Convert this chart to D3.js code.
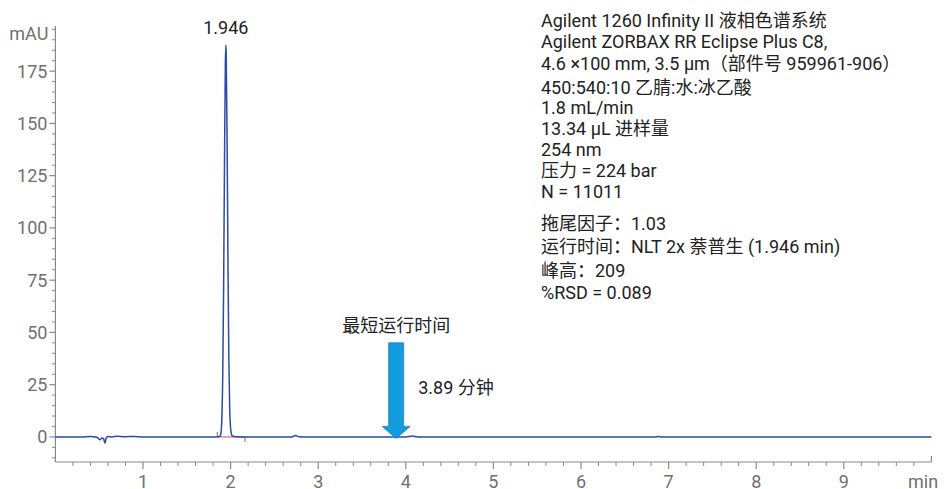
<!DOCTYPE html>
<html>
<head>
<meta charset="utf-8">
<script src="https://cdn.jsdelivr.net/npm/d3@7/dist/d3.min.js"></script>
<style>
  html, body { margin: 0; padding: 0; background: #fff; }
  svg { display: block; }
  text { font-family: Roboto, "Noto Sans CJK SC", "Noto Sans", sans-serif; }
</style>
</head>
<body>
<svg id="chart" width="944" height="489"></svg>
<script>
// Chromatogram trace: retention time (min) and absorbance (mAU)
const traceTime = [
  0, 0.30, 0.40, 0.45, 0.48, 0.51, 0.53, 0.55, 0.565, 0.58, 0.60, 0.65, 0.70, 0.80,
  0.90, 1.00, 1.30, 1.60, 1.80, 1.86, 1.88, 1.89, 1.90, 1.91, 1.92, 1.93, 1.94,
  1.946, 1.95, 1.96, 1.97, 1.98, 1.99, 2.00, 2.01, 2.02, 2.04, 2.08, 2.20, 2.50,
  2.70, 2.74, 2.78, 2.85, 3.20, 3.60, 4.00, 4.08, 4.12, 4.20, 5.00, 6.00, 6.85,
  6.88, 6.92, 7.50, 8.50, 9.50, 10.0
];
const traceMAU = [
  0, 0, 0.2, 0, -0.3, -1.4, -0.5, -0.8, -3.0, -0.6, 0.2, 0, 0.3, 0.1,
  0.2, 0, 0, 0, 0, 0.1, 0.4, 1.8, 8.6, 28.5, 70, 129, 178,
  187.5, 183, 141, 84, 37, 13, 4.0, 1.3, 0.5, 0.2, 0.1, 0, 0,
  0, 0.7, 0.1, 0, 0, 0, 0, 0.4, 0.1, 0, 0, 0, 0,
  0.2, 0, 0, 0, 0, 0
];

// Peak annotation
const peakTime = 1.946;
const peakHeight = 187.5;
const peakLabel = "1.946";

// Integration baseline under the peak (start/end, min)
const integrationStart = 1.848;
const integrationEnd = 2.164;

// Minimum run-time marker
const markerTime = 3.89;
const markerTitle = "最短运行时间";
const markerNote = "3.89 分钟";

// Axes
const xDomain = [0, 10];
const xMajorTicks = [1, 2, 3, 4, 5, 6, 7, 8, 9];
const xTickLabels = ["1", "2", "3", "4", "5", "6", "7", "8", "9"];
const yDomain = [-12, 196.6];
const yMajorTicks = [0, 25, 50, 75, 100, 125, 150, 175];
const yTickLabels = ["0", "25", "50", "75", "100", "125", "150", "175"];
const xUnit = "min";
const yUnit = "mAU";

// Method conditions
const methodLines = [
  "Agilent 1260 Infinity II 液相色谱系统",
  "Agilent ZORBAX RR Eclipse Plus C8,",
  "4.6 ×100 mm, 3.5 µm（部件号 959961-906）",
  "450:540:10 乙腈:水:冰乙酸",
  "1.8 mL/min",
  "13.34 µL 进样量",
  "254 nm",
  "压力 = 224 bar",
  "N = 11011"
];
// System suitability results
const resultLines = [
  "拖尾因子：1.03",
  "运行时间：NLT 2x 萘普生 (1.946 min)",
  "峰高：209",
  "%RSD = 0.089"
];

const svg = d3.select("#chart");
const plotLeft = 55.4, plotRight = 931.4, plotTop = 26, plotBottom = 462;
const fontSize = 18;

const x = d3.scaleLinear().domain(xDomain).range([plotLeft, plotRight]);
const y = d3.scaleLinear().domain(yDomain).range([plotBottom, plotTop]);

const axisColor = "#8a8a8a";
const labelColor = "#707070";

// ---- X axis ----
const gx = svg.append("g").attr("transform", `translate(0,${plotBottom})`);
gx.append("line").attr("x1", plotLeft).attr("x2", plotRight).attr("y1", 0).attr("y2", 0)
  .attr("stroke", axisColor).attr("stroke-width", 1.2);
const xMinor = d3.range(0.2, 10, 0.2).filter(v => Math.abs(v - Math.round(v)) > 1e-6);
gx.selectAll("line.xminor").data(xMinor).join("line")
  .attr("x1", d => x(d)).attr("x2", d => x(d)).attr("y1", 0).attr("y2", 4)
  .attr("stroke", axisColor).attr("stroke-width", 1);
gx.selectAll("line.xmajor").data(xMajorTicks).join("line")
  .attr("x1", d => x(d)).attr("x2", d => x(d)).attr("y1", 0).attr("y2", 7)
  .attr("stroke", axisColor).attr("stroke-width", 1.2);
gx.append("line").attr("x1", x(10)).attr("x2", x(10)).attr("y1", -6).attr("y2", 0)
  .attr("stroke", axisColor).attr("stroke-width", 1.2);
gx.selectAll("text.xl").data(xMajorTicks).join("text")
  .attr("x", d => x(d)).attr("y", 25.5)
  .attr("text-anchor", "middle").attr("font-size", fontSize).attr("fill", labelColor)
  .text((d, i) => xTickLabels[i]);
gx.append("text").attr("x", 908).attr("y", 25.5).attr("font-size", fontSize)
  .attr("fill", labelColor).text(xUnit);

// ---- Y axis ----
const gy = svg.append("g").attr("transform", `translate(${plotLeft},0)`);
gy.append("line").attr("x1", 0).attr("x2", 0).attr("y1", plotTop).attr("y2", plotBottom)
  .attr("stroke", axisColor).attr("stroke-width", 1.2);
const yMinor = d3.range(-10, 196, 5).filter(v => v % 25 !== 0);
gy.selectAll("line.yminor").data(yMinor).join("line")
  .attr("x1", -3.5).attr("x2", 0).attr("y1", d => y(d)).attr("y2", d => y(d))
  .attr("stroke", axisColor).attr("stroke-width", 1);
gy.selectAll("line.ymajor").data(yMajorTicks).join("line")
  .attr("x1", -6).attr("x2", 0).attr("y1", d => y(d)).attr("y2", d => y(d))
  .attr("stroke", axisColor).attr("stroke-width", 1.2);
gy.selectAll("text.yl").data(yMajorTicks).join("text")
  .attr("x", -8).attr("y", d => y(d) + 6.5)
  .attr("text-anchor", "end").attr("font-size", fontSize).attr("fill", labelColor)
  .text((d, i) => yTickLabels[i]);
gy.append("text").attr("x", -7).attr("y", 39.5).attr("text-anchor", "end")
  .attr("font-size", fontSize).attr("fill", labelColor).text(yUnit);

// ---- Integration baseline ----
const integ = svg.append("g").attr("stroke", "#d95b83").attr("stroke-width", 1.2);
integ.append("line").attr("x1", x(integrationStart)).attr("x2", x(integrationEnd))
  .attr("y1", y(0)).attr("y2", y(0));
integ.append("line").attr("x1", x(integrationStart)).attr("x2", x(integrationStart))
  .attr("y1", y(0)).attr("y2", y(0) - 5).attr("stroke", "#888");
integ.append("line").attr("x1", x(integrationEnd)).attr("x2", x(integrationEnd))
  .attr("y1", y(0)).attr("y2", y(0) + 5).attr("stroke", "#888");

// ---- Trace ----
const traceData = traceTime.map((t, i) => ({ t, v: traceMAU[i] }));
const line = d3.line().x(d => x(d.t)).y(d => y(d.v)).curve(d3.curveMonotoneX);
svg.append("path").datum(traceData)
  .attr("d", line).attr("fill", "none")
  .attr("stroke", "#2d4aa5").attr("stroke-width", 1.5).attr("stroke-linejoin", "round");

// Peak label
svg.append("text").attr("x", x(peakTime)).attr("y", y(peakHeight) - 11.5)
  .attr("text-anchor", "middle").attr("font-size", fontSize).attr("fill", "#222")
  .text(peakLabel);

// ---- Run-time marker arrow ----
const tipX = x(markerTime), tipY = y(0) + 1.5;
const shaftHalf = 7.5, headHalf = 14, headLen = 12, shaftTop = y(45);
const arrowPath = d3.path();
arrowPath.moveTo(tipX - shaftHalf, shaftTop);
arrowPath.lineTo(tipX + shaftHalf, shaftTop);
arrowPath.lineTo(tipX + shaftHalf, tipY - headLen);
arrowPath.lineTo(tipX + headHalf, tipY - headLen);
arrowPath.lineTo(tipX, tipY);
arrowPath.lineTo(tipX - headHalf, tipY - headLen);
arrowPath.lineTo(tipX - shaftHalf, tipY - headLen);
arrowPath.closePath();
svg.append("path").attr("d", arrowPath.toString())
  .attr("fill", "#119ddf").attr("stroke", "#2a78b8").attr("stroke-width", 0.8);
svg.append("text").attr("x", tipX).attr("y", 331.5).attr("text-anchor", "middle")
  .attr("font-size", fontSize).attr("fill", "#222").text(markerTitle);
svg.append("text").attr("x", tipX + 22).attr("y", 393.5)
  .attr("font-size", fontSize).attr("fill", "#222").text(markerNote);

// ---- Method / results text block ----
const methodY = [27, 48, 69.5, 93.5, 113.5, 134.5, 155.5, 177, 198];
const resultY = [229.5, 253, 276.5, 299];
const info = svg.append("g").attr("font-size", fontSize).attr("fill", "#222");
info.selectAll("text.m").data(methodLines).join("text")
  .attr("x", 541).attr("y", (d, i) => methodY[i]).text(d => d);
info.selectAll("text.r").data(resultLines).join("text")
  .attr("x", 541).attr("y", (d, i) => resultY[i]).text(d => d);
</script>
</body>
</html>
